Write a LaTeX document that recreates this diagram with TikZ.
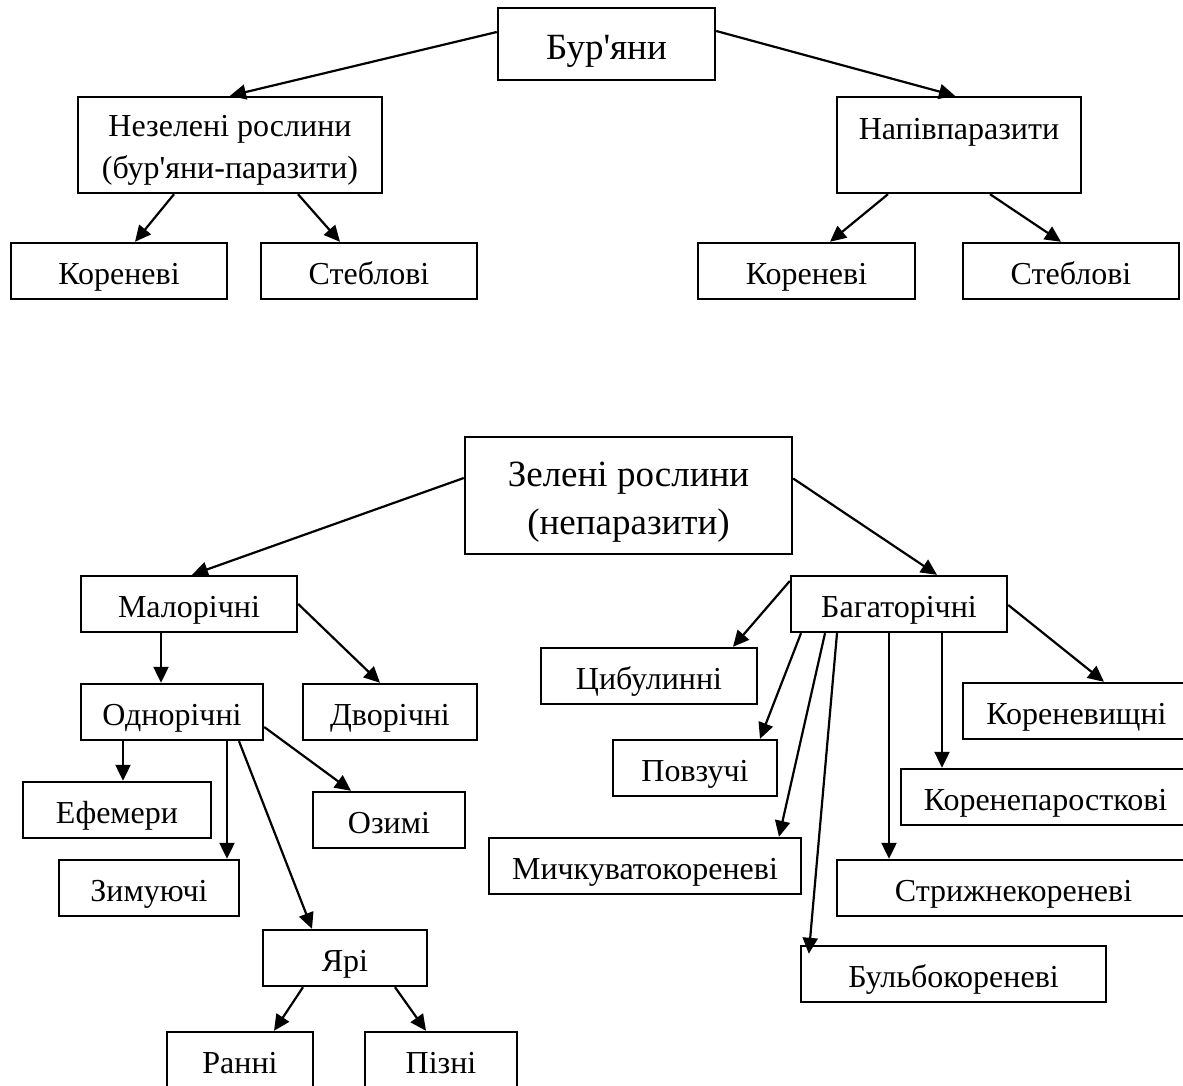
\documentclass[tikz,border=0pt]{standalone}
\usepackage{fontspec}
\setmainfont{Liberation Serif}
\usetikzlibrary{arrows.meta}

\newcommand{\boxfont}{\fontsize{16}{20.8}\selectfont}
\newcommand{\bigboxfont}{\fontsize{18.5}{24}\selectfont}

\tikzset{
  box/.style={draw, rectangle, line width=1.2pt, inner sep=0pt, minimum height=28pt, align=center, font=\boxfont, text height=13pt, text depth=0pt},
  twoline/.style={box, text height=, text depth=},
  bigbox/.style={twoline, font=\bigboxfont},
}

\begin{document}
\begin{tikzpicture} [->, >={Triangle[length=8pt,width=7.5pt]}, line width=1.1pt, x=0.5pt, y=-0.5pt]

  \useasboundingbox (0,0) rectangle (1183,1086);

  % parasites
  \node[bigbox, minimum width=108.5pt, minimum height=36pt, text height=16pt, text depth=0pt] (bur) at (606.5,44) {Бур\textquotesingle яни};
  \node[twoline, minimum width=152pt, minimum height=48pt] (nezel) at (230,145) {\rule{0pt}{16pt}Незелені рослини\\(бур\textquotesingle яни-паразити)};
  \node[twoline, minimum width=122pt, minimum height=48pt] (napiv) at (959,145) {\rule{0pt}{15pt}Напівпаразити\\ \mbox{}};
  \node[box, minimum width=108pt] (korL) at (119,271) {Кореневі};
  \node[box, minimum width=108pt] (stebL) at (369,271) {Стеблові};
  \node[box, minimum width=108.5pt] (korR) at (806.5,271) {Кореневі};
  \node[box, minimum width=108pt] (stebR) at (1071,271) {Стеблові};

  \path
    ([yshift=6pt]bur.west) edge (nezel.north)
    ([yshift=6.5pt]bur.east) edge ([xshift=-2pt]napiv.north)
    ([xshift=-28pt]nezel.south) edge ([xshift=8pt]korL.north)
    ([xshift=34pt]nezel.south) edge ([xshift=-14.5pt]stebL.north)
    ([xshift=-35.5pt]napiv.south) edge ([xshift=11.75pt]korR.north)
    ([xshift=15.5pt]napiv.south) edge ([xshift=-5pt]stebR.north);

  % green plants
  \node[bigbox, minimum width=163.5pt, minimum height=58.5pt] (zel) at (628.5,495.5) {\rule{0pt}{19pt}Зелені рослини\\(непаразити)};
  \node[box, minimum width=108pt] (malo) at (189,604) {Малорічні};
  \node[box, minimum width=91pt] (odno) at (172,712) {Однорічні};
  \node[box, minimum width=87pt] (dvo) at (390,712) {Дворічні};
  \node[box, minimum width=94pt] (efem) at (117,810) {Ефемери};
  \node[box, minimum width=76pt] (ozym) at (389,820) {Озимі};
  \node[box, minimum width=90pt] (zymu) at (149,888) {Зимуючі};
  \node[box, minimum width=82pt] (yari) at (345,958) {Ярі};
  \node[box, minimum width=73pt] (ranni) at (240,1060) {Ранні};
  \node[box, minimum width=76pt] (pizni) at (441,1060) {Пізні};

  \node[box, minimum width=108pt] (baga) at (899,604) {Багаторічні};
  \node[box, minimum width=108pt] (cybu) at (649,676) {Цибулинні};
  \node[box, minimum width=82pt] (povz) at (695,768) {Повзучі};
  \node[box, minimum width=156pt] (mych) at (645,866) {Мичкуватокореневі};
  \node[box, minimum width=152.5pt] (bulb) at (953.5,974) {Бульбокореневі};
  \node[box, minimum width=176.5pt] (stryzh) at (1013.5,888) {Стрижнекореневі};
  \node[box, minimum width=144.5pt] (korpar) at (1045.5,797) {Коренепаросткові};
  \node[box, minimum width=113.5pt] (korvy) at (1076.5,711) {Кореневищні};

  \path
    ([yshift=8.75pt]zel.west) edge ([xshift=1.5pt]malo.north)
    ([yshift=8.5pt]zel.east) edge ([xshift=19pt]baga.north)
    ([xshift=-14pt]malo.south) edge ([xshift=-14pt]malo.south |- odno.north)
    (malo.east) edge ([xshift=-5pt]dvo.north)
    ([xshift=-24.5pt]odno.south) edge ([xshift=-24.5pt]odno.south |- efem.north)
    ([xshift=27.5pt]odno.south) edge ([xshift=27.5pt]odno.south |- zymu.north)
    ([xshift=33.5pt]odno.south) edge ([xshift=-16.5pt]yari.north)
    ([yshift=-7.5pt]odno.east) edge ([xshift=-19pt]ozym.north)
    ([xshift=-21pt]yari.south) edge ([xshift=17pt]ranni.north)
    ([xshift=25pt]yari.south) edge ([xshift=-7.5pt]pizni.north);

  \path
    ([yshift=11.5pt]baga.west) edge ([xshift=42pt]cybu.north)
    ([xshift=-49pt]baga.south) edge ([xshift=32.5pt]povz.north)
    ([xshift=-37pt]baga.south) edge ([xshift=67pt]mych.north)
    ([xshift=-31pt]baga.south) edge ([xshift=4.5pt,yshift=-4.5pt]bulb.north west)
    ([xshift=-5pt]baga.south) edge ([xshift=-5pt]baga.south |- stryzh.north)
    ([xshift=21.5pt]baga.south) edge ([xshift=21.5pt]baga.south |- korpar.north)
    ([yshift=-0.5pt]baga.east) edge ([xshift=13.75pt]korvy.north);

\end{tikzpicture}
\end{document}
